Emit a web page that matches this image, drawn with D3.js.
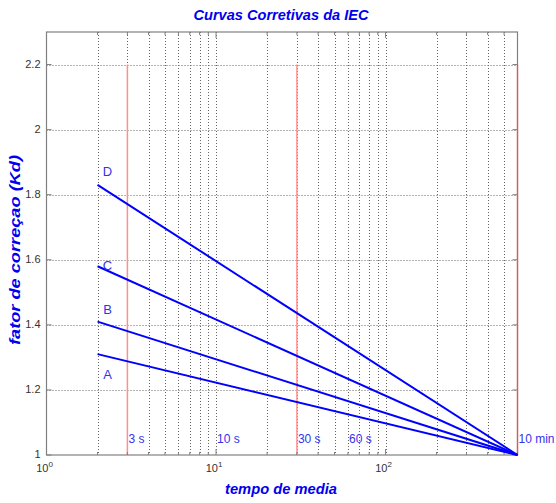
<!DOCTYPE html>
<html><head><meta charset="utf-8">
<script src="https://cdn.jsdelivr.net/npm/d3@7"></script>
<style>body{margin:0;background:#fff;}svg{display:block;font-family:Arial,"Liberation Sans",Helvetica,sans-serif;}</style>
</head><body>
<script>
// Data
const curveNames = ["A", "B", "C", "D"];
const times = [2, 600];
const kdA = [1.31, 1.0];
const kdB = [1.41, 1.0];
const kdC = [1.58, 1.0];
const kdD = [1.83, 1.0];
const markerTimes = [3, 30, 600];
const markerLabels = ["3 s", "10 s", "30 s", "60 s", "10 min"];
const markerLabelTimes = [3, 10, 30, 60, 600];
const yTicks = [1, 1.2, 1.4, 1.6, 1.8, 2, 2.2];
const xMajor = [1, 10, 100];

const W = 556, H = 503;
const m = {l: 46.5, r: 517.5, t: 32, b: 455};
const x = d3.scaleLog().domain([1, 600]).range([m.l, m.r]);
const y = d3.scaleLinear().domain([1, 2.3]).range([m.b, m.t]);

const svg = d3.select("body").append("svg").attr("width", W).attr("height", H);

// minor ticks
const minor = [];
for (const dec of [1, 10, 100]) for (let k = 1; k <= 9; k++) { const v = dec * k; if (v <= 600) minor.push(v); }
const gridX = minor.filter(v => v > 1 && v < 600);

// grid
const g = svg.append("g");
g.selectAll("line.gx").data(gridX).join("line")
  .attr("x1", d => Math.round(x(d)) + 0.5).attr("x2", d => Math.round(x(d)) + 0.5)
  .attr("y1", m.t).attr("y2", m.b)
  .attr("stroke", "#666").attr("stroke-width", 1).attr("stroke-dasharray", "1,2");
g.selectAll("line.gy").data(yTicks.filter(v => v > 1)).join("line")
  .attr("x1", m.l).attr("x2", m.r)
  .attr("y1", d => Math.round(y(d)) + 0.5).attr("y2", d => Math.round(y(d)) + 0.5)
  .attr("stroke", "#666").attr("stroke-width", 1).attr("stroke-dasharray", "1,2");

// red markers
g.selectAll("line.red").data(markerTimes).join("line")
  .attr("x1", d => x(d)).attr("x2", d => x(d))
  .attr("y1", y(2.2)).attr("y2", m.b)
  .attr("stroke", "#ff9090").attr("stroke-width", 1.5);

// frame
svg.append("rect").attr("x", m.l).attr("y", m.t).attr("width", m.r - m.l).attr("height", m.b - m.t)
  .attr("fill", "none").attr("stroke", "#808080").attr("stroke-width", 1.2);

// ticks (inward)
const tk = svg.append("g").attr("stroke", "#808080").attr("stroke-width", 1);
minor.forEach(v => {
  const len = xMajor.includes(v) ? 6 : 3;
  const px = x(v);
  tk.append("line").attr("x1", px).attr("x2", px).attr("y1", m.b).attr("y2", m.b - len);
  tk.append("line").attr("x1", px).attr("x2", px).attr("y1", m.t).attr("y2", m.t + len);
});
yTicks.forEach(v => {
  const py = y(v);
  tk.append("line").attr("x1", m.l).attr("x2", m.l + 5).attr("y1", py).attr("y2", py);
  tk.append("line").attr("x1", m.r).attr("x2", m.r - 5).attr("y1", py).attr("y2", py);
});

// y tick labels
svg.append("g").selectAll("text").data(yTicks).join("text")
  .attr("x", m.l - 6).attr("y", d => y(d) + 3)
  .attr("text-anchor", "end").attr("font-size", 11).attr("fill", "#333")
  .text(d => d3.format("")(+d.toFixed(1)));

// x tick labels 10^n
const xl = svg.append("g").selectAll("text").data(xMajor).join("text")
  .attr("x", d => x(d) - 2).attr("y", 472)
  .attr("text-anchor", "middle").attr("font-size", 11).attr("fill", "#333");
xl.append("tspan").text("10");
xl.append("tspan").attr("dy", -5).attr("font-size", 8).text(d => Math.round(Math.log10(d)));

// curves
const series = [kdA, kdB, kdC, kdD];
const line = d3.line().x((d, i) => x(times[i])).y(d => y(d));
svg.append("g").selectAll("path").data(series).join("path")
  .attr("d", d => line(d)).attr("fill", "none").attr("stroke", "#0000ff").attr("stroke-width", 2);

// curve labels
const labelDy = [20, -13, -1, -14];
svg.append("g").selectAll("text").data(curveNames).join("text")
  .attr("x", x(times[0]) + 10).attr("y", (d, i) => y(series[i][0]) + labelDy[i] + 5)
  .attr("text-anchor", "middle").attr("font-size", 13).attr("fill", "#3333ee")
  .text(d => d);

// marker labels
svg.append("g").selectAll("text").data(markerLabels).join("text")
  .attr("x", (d, i) => x(markerLabelTimes[i]) + 1).attr("y", 443)
  .attr("font-size", 12).attr("fill", "#3333ee")
  .text(d => d);

// titles
svg.append("text").attr("x", 281).attr("y", 20).attr("text-anchor", "middle")
  .attr("font-size", 14).attr("font-weight", "bold").attr("font-style", "italic").attr("fill", "#0000ee")
  .attr("textLength", 175).attr("lengthAdjust", "spacingAndGlyphs")
  .text("Curvas Corretivas da IEC");
svg.append("text").attr("x", 281).attr("y", 494).attr("text-anchor", "middle")
  .attr("font-size", 14).attr("font-weight", "bold").attr("font-style", "italic").attr("fill", "#0000ee")
  .attr("textLength", 112).attr("lengthAdjust", "spacingAndGlyphs")
  .text("tempo de media");
svg.append("text").attr("transform", "translate(20,250) rotate(-90)").attr("text-anchor", "middle")
  .attr("font-size", 14).attr("font-weight", "bold").attr("font-style", "italic").attr("fill", "#0000ee")
  .attr("textLength", 190).attr("lengthAdjust", "spacingAndGlyphs")
  .text("fator de correçao (Kd)");
</script>
</body></html>
